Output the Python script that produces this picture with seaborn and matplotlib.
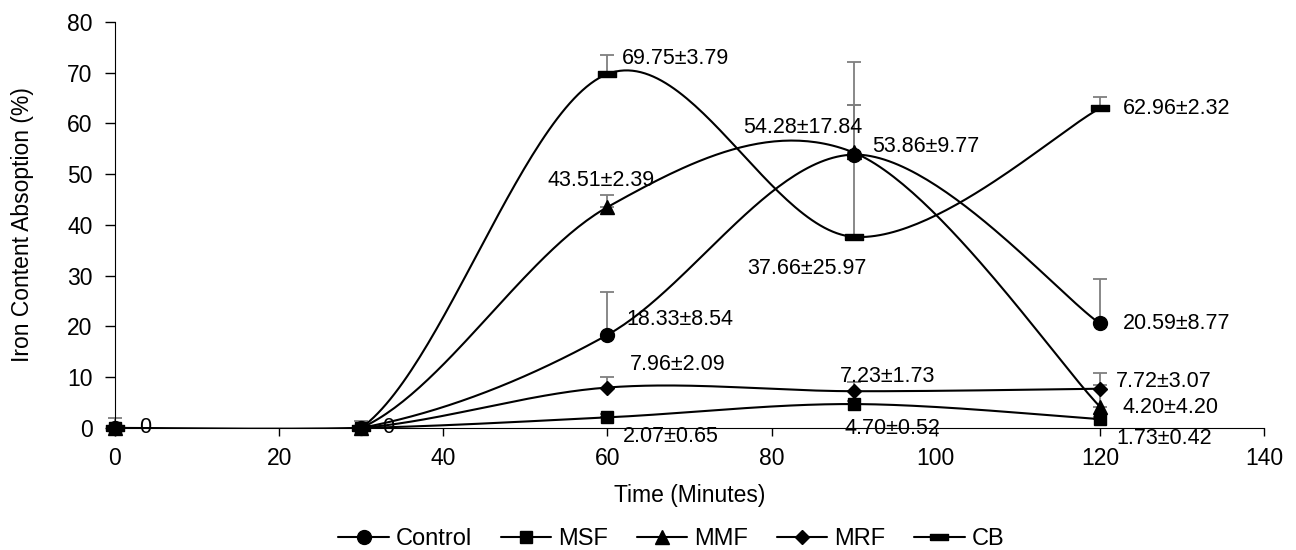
import matplotlib
matplotlib.use("Agg")
import matplotlib.pyplot as plt
import seaborn as sns
import pandas as pd
import numpy as np
from matplotlib.lines import Line2D

# data
time = [0, 30, 60, 90, 120]
series = ["Control", "MSF", "MMF", "MRF", "CB"]
control = [0, 0, 18.33, 53.86, 20.59]
msf = [0, 0, 2.07, 4.70, 1.73]
mmf = [0, 0, 43.51, 54.28, 4.20]
mrf = [0, 0, 7.96, 7.23, 7.72]
cb = [0, 0, 69.75, 37.66, 62.96]
control_sd = [1.9, 1.3, 8.54, 9.77, 8.77]
msf_sd = [0, 0, 0.65, 0.52, 0.42]
mmf_sd = [0, 0, 2.39, 17.84, 4.20]
mrf_sd = [0, 0, 2.09, 1.73, 3.07]
cb_sd = [0, 0, 3.79, 25.97, 2.32]

values = [control, msf, mmf, mrf, cb]
errors = [control_sd, msf_sd, mmf_sd, mrf_sd, cb_sd]

dash = [(-1, -0.35), (1, -0.35), (1, 0.35), (-1, 0.35), (-1, -0.35)]
markers = {"Control": "o", "MSF": "s", "MMF": "^", "MRF": "D", "CB": dash}
msize = {"Control": 10, "MSF": 9, "MMF": 10, "MRF": 7.5, "CB": 13}

# label anchor (left edge x, centre y) per point, in data units
labels = {
    ("Control", 0): (3.0, 0),
    ("Control", 30): (32.6, 0),
    ("Control", 60): (62.3, 21.3),
    ("Control", 90): (92.3, 55.4),
    ("Control", 120): (122.8, 20.5),
    ("MSF", 60): (61.9, -1.7),
    ("MSF", 90): (88.9, -0.2),
    ("MSF", 120): (122.0, -2.0),
    ("MMF", 60): (52.7, 48.7),
    ("MMF", 90): (76.5, 59.3),
    ("MMF", 120): (122.8, 4.1),
    ("MRF", 60): (62.7, 12.4),
    ("MRF", 90): (88.3, 10.1),
    ("MRF", 120): (121.9, 9.1),
    ("CB", 60): (61.8, 72.9),
    ("CB", 90): (77.0, 31.5),
    ("CB", 120): (122.8, 62.9),
}


def smooth(xs, ys, n=60):
    # Excel-like smoothed line: Catmull-Rom style cubic Bezier segments
    xs = np.asarray(xs, float)
    ys = np.asarray(ys, float)
    px, py = [], []
    for i in range(len(xs) - 1):
        x0, y0 = (xs[i - 1], ys[i - 1]) if i > 0 else (xs[i], ys[i])
        x3, y3 = (xs[i + 2], ys[i + 2]) if i + 2 < len(xs) else (xs[i + 1], ys[i + 1])
        x1, y1 = xs[i], ys[i]
        x2, y2 = xs[i + 1], ys[i + 1]
        c1x, c1y = x1 + (x2 - x0) / 6, y1 + (y2 - y0) / 6
        c2x, c2y = x2 - (x3 - x1) / 6, y2 - (y3 - y1) / 6
        t = np.linspace(0, 1, n)
        bx = (1 - t) ** 3 * x1 + 3 * (1 - t) ** 2 * t * c1x + 3 * (1 - t) * t ** 2 * c2x + t ** 3 * x2
        by = (1 - t) ** 3 * y1 + 3 * (1 - t) ** 2 * t * c1y + 3 * (1 - t) * t ** 2 * c2y + t ** 3 * y2
        px.extend(bx)
        py.extend(by)
    return np.array(px), np.array(py)


sns.set_style("white")
plt.rcParams["font.family"] = ["Liberation Sans", "DejaVu Sans"]
plt.rcParams["text.color"] = "black"
plt.rcParams["axes.labelcolor"] = "black"

fig = plt.figure(figsize=(12.96, 5.5), dpi=100)
ax = fig.add_axes([0.0887, 0.222, 0.8866, 0.738])

rows = []
for name, vals, errs in zip(series, values, errors):
    for t, v, e in zip(time, vals, errs):
        rows.append({"Time": t, "Value": v, "SD": e, "Series": name})
df = pd.DataFrame(rows)

for name in series:
    d = df[df["Series"] == name]
    # upper error bars only
    ax.errorbar(d["Time"], d["Value"], yerr=[np.zeros(len(d)), d["SD"]], fmt="none",
                ecolor="#7f7f7f", elinewidth=1.3, capsize=5, capthick=1.3, zorder=2,
                clip_on=False)
    sx, sy = smooth(d["Time"], d["Value"])
    sns.lineplot(x=sx, y=sy, ax=ax, color="black", lw=1.5, sort=False, zorder=3)
    ax.plot(d["Time"], d["Value"], ls="none", marker=markers[name], ms=msize[name],
            color="black", zorder=4, clip_on=False)
    for t, v, e in zip(d["Time"], d["Value"], d["SD"]):
        key = (name, t)
        if key not in labels:
            continue
        lx, ly = labels[key]
        txt = "0" if v == 0 else f"{v:.2f}±{e:.2f}"
        ax.text(lx, ly, txt, ha="left", va="center", fontsize=15.5, color="black", zorder=5)

ax.set_xlim(0, 140)
ax.set_ylim(0, 80)
ax.set_xticks(range(0, 141, 20))
ax.set_yticks(range(0, 81, 10))
ax.tick_params(axis="both", labelsize=16.5, colors="black", labelcolor="black",
               direction="out", width=1, bottom=True, left=True)
ax.tick_params(axis="x", length=6, pad=8)
ax.tick_params(axis="y", length=7, pad=9)
ax.spines["top"].set_visible(False)
ax.spines["right"].set_visible(False)
ax.spines["left"].set_color("black")
ax.spines["bottom"].set_color("black")
ax.set_xlabel("Time (Minutes)", fontsize=16.5, labelpad=10)
ax.set_ylabel("Iron Content Absoption (%)", fontsize=16.5, labelpad=24)

handles = [Line2D([], [], color="black", lw=1.5, marker=markers[n], ms=msize[n]) for n in series]
fig.legend(handles, series, loc="center", ncol=5, frameon=False, fontsize=17,
           bbox_to_anchor=(0.518, 0.02), handlelength=2.15, columnspacing=1.2,
           handletextpad=0.3)

fig.savefig("out.png", dpi=100)
